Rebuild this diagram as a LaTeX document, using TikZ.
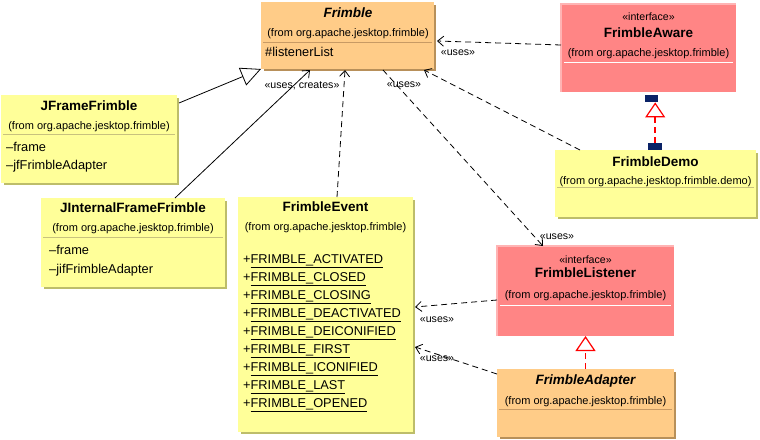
\documentclass[tikz,border=0pt]{standalone}
\usepackage{fontspec}
\setmainfont{Liberation Sans}
\usetikzlibrary{arrows.meta,calc}
\definecolor{orfill}{HTML}{FFCC88}
\definecolor{orshadow}{HTML}{B8905A}
\definecolor{orsep}{HTML}{C89A64}
\definecolor{yefill}{HTML}{FFFF99}
\definecolor{yeshadow}{HTML}{BDBD6A}
\definecolor{yesep}{HTML}{C8C27E}
\definecolor{pkfill}{HTML}{FF8585}
\definecolor{pklight}{HTML}{FFB4B4}
\definecolor{navy}{HTML}{0A2266}
\newcommand\umlbox[7]{% name, x, y, w, h, fill, shadow
  \node[boxshape, fill=#6, minimum width=#4pt, minimum height=#5pt] (#1) at (#2,#3) {};
  \draw[#7, line width=2pt] ($(#1.north east)+(1,3)$) -- ($(#1.south east)+(1,1)$) -- ($(#1.south west)+(3,1)$);
}
\begin{document}
\begin{tikzpicture}[x=1pt,y=-1pt,
  boxshape/.style={rectangle, draw=none, inner sep=0pt, outer sep=0pt, anchor=north west},
  txt/.style={inner sep=0pt, yshift=-2pt},
  ttl/.style={txt, font=\fontsize{13.5}{16}\selectfont\bfseries, anchor=mid},
  ittl/.style={txt, font=\fontsize{13.5}{16}\selectfont\bfseries\itshape, anchor=mid},
  sub/.style={txt, font=\fontsize{11}{13}\selectfont, anchor=mid},
  stereo/.style={txt, font=\fontsize{10.6}{12}\selectfont, anchor=mid},
  attr/.style={txt, font=\fontsize{12.8}{15}\selectfont, anchor=mid west},
  lbl/.style={txt, font=\fontsize{10.6}{12}\selectfont, anchor=mid},
  depline/.style={draw=black, line width=0.8pt, dash pattern=on 6pt off 4pt, -{Straight Barb[length=6pt,width=10pt,line width=0.8pt]}},
  assoc/.style={draw=black, line width=0.8pt, -{Straight Barb[length=6pt,width=10pt,line width=0.8pt]}},
  genline/.style={draw=black, line width=0.8pt, -{Triangle[open,length=20pt,width=19pt,line width=0.8pt]}},
  realline/.style={draw=red, line width=1.6pt, dash pattern=on 6pt off 4pt, -{Triangle[open,length=15pt,width=20pt,line width=1.2pt]}},
  handle/.style={rectangle, fill=navy, draw=none, inner sep=0pt, anchor=north west}
]
\useasboundingbox (0,0) rectangle (760,439);

% ---------- boxes ----------
\umlbox{frimble}{261}{2}{173}{67}{orfill}{orshadow}
\draw[orsep, line width=1pt] ($(frimble.north west)+(2,40)$) -- ($(frimble.north east)+(-2,40)$);
\node[ittl] (frimble-t) at (348,13) {Frimble};
\node[sub] (frimble-s) at (348,32) {(from org.apache.jesktop.frimble)};
\node[attr] (frimble-a) at (265,52) {\#listenerList};

\node[boxshape, fill=pkfill, minimum width=175pt, minimum height=88pt] (aware) at (561,4) {};
\draw[pklight, line width=1.5pt] (aware.south west) -- (aware.north west) -- (aware.north east);
\draw[white, line width=1pt] ($(aware.north west)+(3,58)$) -- ($(aware.north east)+(-3,58)$);
\node[stereo] (aware-st) at (648.5,16) {«interface»};
\node[ttl] (aware-t) at (648.5,33) {FrimbleAware};
\node[sub] (aware-s) at (648.5,52) {(from org.apache.jesktop.frimble)};

\umlbox{jff}{1}{95}{176}{88}{yefill}{yeshadow}
\draw[yesep, line width=1pt] ($(jff.north west)+(2,39)$) -- ($(jff.north east)+(-2,39)$);
\node[ttl] (jff-t) at (89,106) {JFrameFrimble};
\node[sub] (jff-s) at (89,125) {(from org.apache.jesktop.frimble)};
\node[attr] (jff-a1) at (6,147) {–frame};
\node[attr] (jff-a2) at (6,165) {–jfFrimbleAdapter};

\umlbox{jiff}{41}{198}{184}{89}{yefill}{yeshadow}
\draw[yesep, line width=1pt] ($(jiff.north west)+(2,39)$) -- ($(jiff.north east)+(-2,39)$);
\node[ttl] (jiff-t) at (133,208) {JInternalFrameFrimble};
\node[sub] (jiff-s) at (133,227) {(from org.apache.jesktop.frimble)};
\node[attr] (jiff-a1) at (49,250) {–frame};
\node[attr] (jiff-a2) at (49,269) {–jifFrimbleAdapter};

\umlbox{event}{238}{197}{175}{235}{yefill}{yeshadow}
\node[ttl] (event-t) at (325.5,207) {FrimbleEvent};
\node[sub] (event-s) at (325.5,226) {(from org.apache.jesktop.frimble)};
\node[attr] (ev1) at (243,259) {+\underline{FRIMBLE\_ACTIVATED}};
\node[attr] (ev2) at (243,277) {+\underline{FRIMBLE\_CLOSED}};
\node[attr] (ev3) at (243,295) {+\underline{FRIMBLE\_CLOSING}};
\node[attr] (ev4) at (243,313) {+\underline{FRIMBLE\_DEACTIVATED}};
\node[attr] (ev5) at (243,331) {+\underline{FRIMBLE\_DEICONIFIED}};
\node[attr] (ev6) at (243,349) {+\underline{FRIMBLE\_FIRST}};
\node[attr] (ev7) at (243,367) {+\underline{FRIMBLE\_ICONIFIED}};
\node[attr] (ev8) at (243,385) {+\underline{FRIMBLE\_LAST}};
\node[attr] (ev9) at (243,403) {+\underline{FRIMBLE\_OPENED}};

\umlbox{demo}{555}{150}{201}{67}{yefill}{yeshadow}
\draw[yesep, line width=1pt] ($(demo.north west)+(2,37)$) -- ($(demo.north east)+(-2,37)$);
\node[ttl] (demo-t) at (655.5,162) {FrimbleDemo};
\node[sub] (demo-s) at (655.5,180) {(from org.apache.jesktop.frimble.demo)};

\node[boxshape, fill=pkfill, minimum width=177pt, minimum height=90pt] (listener) at (497,246) {};
\draw[pklight, line width=1.5pt] (listener.south west) -- (listener.north west) -- (listener.north east);
\draw[white, line width=1pt] ($(listener.north west)+(3,59)$) -- ($(listener.north east)+(-3,59)$);
\node[stereo] (listener-st) at (585.5,259) {«interface»};
\node[ttl] (listener-t) at (585.5,273) {FrimbleListener};
\node[sub] (listener-s) at (585.5,294) {(from org.apache.jesktop.frimble)};

\umlbox{adapter}{497}{369}{177}{68}{orfill}{orshadow}
\draw[orsep, line width=1pt] ($(adapter.north west)+(2,40)$) -- ($(adapter.north east)+(-2,40)$);
\node[ittl] (adapter-t) at (585.5,380) {FrimbleAdapter};
\node[sub] (adapter-s) at (585.5,400) {(from org.apache.jesktop.frimble)};

% ---------- handles ----------
\node[handle, minimum width=13pt, minimum height=7pt] (sq1) at (645,95) {};
\node[handle, minimum width=14pt, minimum height=7pt] (sq2) at (648,143) {};

% ---------- connectors ----------
\draw[genline] ($(jff.north east)+(2,8)$) -- (frimble.south west);
\draw[assoc] ($(jiff.north west)+(134,0)$) -- ($(frimble.south west)+(49,1)$);
\draw[depline] ($(event.north west)+(99,0)$) -- ($(frimble.south west)+(84,1)$);
\draw[depline] ($(demo.north west)+(25,0)$) -- ($(frimble.south east)+(-10,1)$);
\draw[depline] ($(frimble.south west)+(122,1)$) -- ($(listener.north west)+(46,0)$);
\draw[depline] ($(aware.north west)+(0,41)$) -- ($(frimble.north east)+(3,39)$);
\draw[depline] ($(listener.north west)+(0,54)$) -- ($(event.north east)+(2,110)$);
\draw[depline] ($(adapter.north west)+(0,5)$) -- ($(event.north east)+(2,150)$);
\draw[realline] (sq2.north) -- (sq2.north |- sq1.south);
\draw[realline] (adapter.north) -- (listener.south);

% ---------- labels ----------
\node[lbl] (l1) at (302,84) {«uses, creates»};
\node[lbl] (l2) at (404,83) {«uses»};
\node[lbl] (l3) at (458,51) {«uses»};
\node[lbl] (l4) at (557,235) {«uses»};
\node[lbl] (l5) at (437,318) {«uses»};
\node[lbl] (l6) at (437,357) {«uses»};
\end{tikzpicture}
\end{document}
